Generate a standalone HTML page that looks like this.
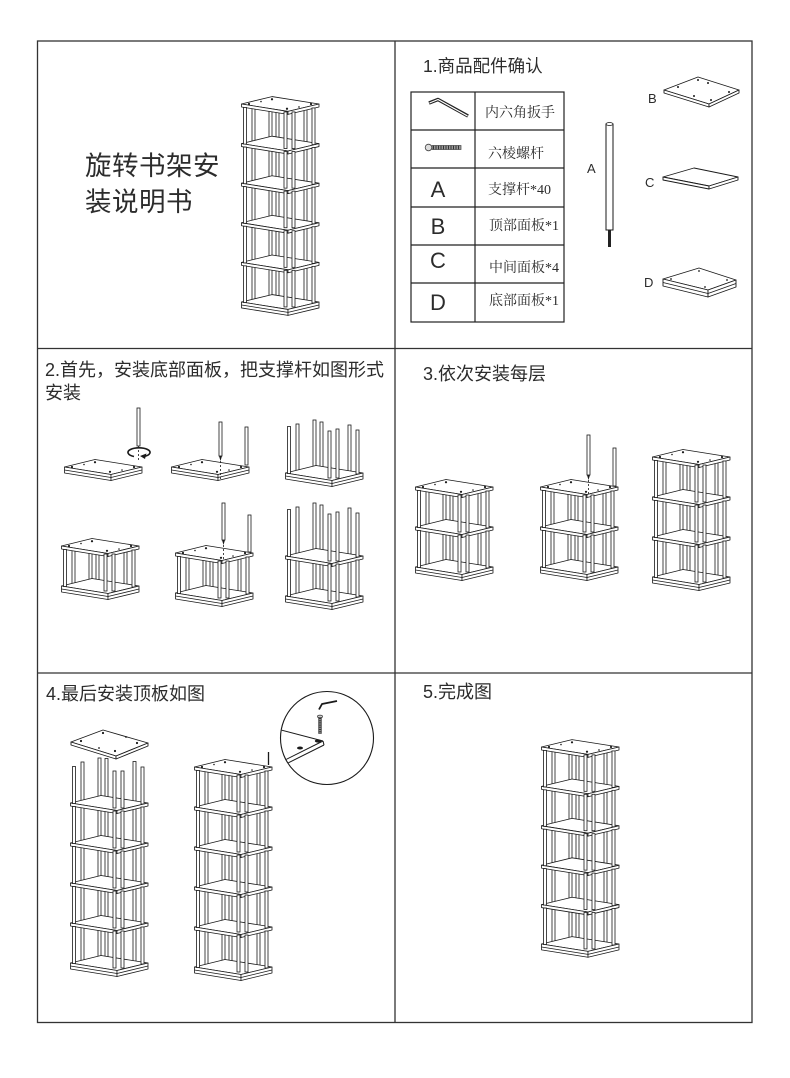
<!DOCTYPE html>
<html><head><meta charset="utf-8"><style>
html,body{margin:0;padding:0;background:#fff;}
svg{display:block;}
.t{font-family:"Liberation Sans","Noto Sans CJK SC",sans-serif;fill:#2c2c2c;}
.s{font-family:"Liberation Serif","Noto Serif CJK SC",serif;fill:#2c2c2c;}
</style></head><body>
<svg width="790" height="1078" viewBox="0 0 790 1078">
<defs>
 <g id="bp" fill="#fff" stroke="#1a1a1a" stroke-width="0.8">
  <rect x="9" y="-1" width="3" height="40"/>
  <rect x="26" y="-5" width="3" height="40"/>
  <rect x="33" y="-4.5" width="3" height="40"/>
  <rect x="61" y="-1.5" width="3" height="40"/>
 </g>
 <g id="fp" fill="#fff" stroke="#1a1a1a" stroke-width="0.8">
  <rect x="0.5" y="3.5" width="3" height="37"/>
  <rect x="41" y="8" width="3" height="37"/>
  <rect x="49" y="8" width="3" height="37"/>
  <rect x="69" y="4" width="3" height="37"/>
 </g>
 <g id="fpl" fill="#fff" stroke="#1a1a1a" stroke-width="0.8">
  <rect x="0.5" y="-6.5" width="3" height="47"/>
  <rect x="41" y="-2" width="3" height="47"/>
  <rect x="49" y="-4" width="3" height="49"/>
  <rect x="69" y="-3" width="3" height="44"/>
 </g>
 <g id="bpl" fill="#fff" stroke="#1a1a1a" stroke-width="0.8">
  <rect x="9" y="-9" width="3" height="48"/>
  <rect x="26" y="-13" width="3" height="48"/>
  <rect x="33" y="-11" width="3" height="46"/>
  <rect x="61" y="-8" width="3" height="46"/>
 </g>
 <g id="pn" fill="#fff" stroke="#1a1a1a" stroke-width="0.8" stroke-linejoin="round">
  <polygon points="-1.5,0 29,-7.5 76,0 45,7.5"/>
  <polygon points="-1.5,0 45,7.5 45,10.5 -1.5,3"/>
  <polygon points="45,7.5 76,0 76,3 45,10.5"/>
 </g>
 <g id="dots" fill="#1a1a1a">
  <circle cx="6" cy="0" r="1.1"/><circle cx="29" cy="-4.8" r="1.1"/>
  <circle cx="68" cy="0" r="1.1"/><circle cx="44" cy="4.8" r="1.1"/>
  <circle cx="18" cy="-2.5" r="0.8"/><circle cx="56" cy="3" r="0.8"/>
 </g>
 <g id="pt"><use href="#pn"/><use href="#dots"/></g>
 <g id="pb" fill="#fff" stroke="#1a1a1a" stroke-width="0.8" stroke-linejoin="round">
  <polygon points="-1.5,0 29,-7.5 76,0 45,7.5"/>
  <polygon points="-1.5,0 45,7.5 45,13.5 -1.5,6"/>
  <polygon points="45,7.5 76,0 76,6 45,13.5"/>
  <polyline points="-1.5,3 45,10.5 76,3" fill="none"/>
 </g>
 <g id="t1">
  <use href="#bp"/>
  <use href="#pt"/><use href="#pb" y="40"/>
  <use href="#fp"/>
 </g>
 <g id="t2">
  <use href="#bp"/><use href="#bp" y="40"/>
  <use href="#pt"/><use href="#pn" y="40"/><use href="#pb" y="80"/>
  <use href="#fp"/><use href="#fp" y="40"/>
 </g>
 <g id="t3">
  <use href="#bp"/><use href="#bp" y="40"/><use href="#bp" y="80"/>
  <use href="#pt"/><use href="#pn" y="40"/><use href="#pn" y="80"/><use href="#pb" y="120"/>
  <use href="#fp"/><use href="#fp" y="40"/><use href="#fp" y="80"/>
 </g>
 <g id="t5">
  <use href="#bp"/><use href="#bp" y="40"/><use href="#bp" y="80"/><use href="#bp" y="120"/><use href="#bp" y="160"/>
  <use href="#pt"/><use href="#pn" y="40"/><use href="#pn" y="80"/><use href="#pn" y="120"/><use href="#pn" y="160"/><use href="#pb" y="200"/>
  <use href="#fp"/><use href="#fp" y="40"/><use href="#fp" y="80"/><use href="#fp" y="120"/><use href="#fp" y="160"/>
 </g>
 <clipPath id="cc"><circle cx="327" cy="738" r="46"/></clipPath>
</defs>

<!-- ===== Panel 0: title ===== -->
<text class="t" x="85" y="175" font-size="26.5" letter-spacing="0.5">旋转书架安</text>
<text class="t" x="85" y="211" font-size="26.5" letter-spacing="0.5">装说明书</text>
<use href="#t5" transform="translate(243,104) scale(1,0.99)"/>

<!-- ===== Panel 1: parts ===== -->
<text class="t" x="423" y="72" font-size="17.5">1.商品配件确认</text>
<g fill="none" stroke="#222" stroke-width="1.2">
 <rect x="411" y="92" width="153" height="230"/>
 <line x1="475" y1="92" x2="475" y2="322"/>
 <line x1="411" y1="130" x2="564" y2="130"/>
 <line x1="411" y1="168" x2="564" y2="168"/>
 <line x1="411" y1="207" x2="564" y2="207"/>
 <line x1="411" y1="245" x2="564" y2="245"/>
 <line x1="411" y1="283" x2="564" y2="283"/>
</g>
<polyline points="429,103 438,99.5 468,116" fill="none" stroke="#222" stroke-width="3.4" stroke-linejoin="round"/>
<polyline points="429.5,103 438,99.5 467.5,116" fill="none" stroke="#fff" stroke-width="1.2" stroke-linejoin="round"/>
<circle cx="428.5" cy="147.5" r="3.3" fill="#ddd" stroke="#444" stroke-width="0.8"/>
<rect x="432" y="145.5" width="29" height="4" fill="#999" stroke="#444" stroke-width="0.7"/>
<line x1="433" y1="147.5" x2="460" y2="147.5" stroke="#333" stroke-width="4" stroke-dasharray="1 1.5"/>

<text class="t" x="438" y="197" font-size="22" text-anchor="middle">A</text>
<text class="t" x="438" y="234" font-size="22" text-anchor="middle">B</text>
<text class="t" x="438" y="268" font-size="22" text-anchor="middle">C</text>
<text class="t" x="438" y="310" font-size="22" text-anchor="middle">D</text>
<text class="s" x="485" y="117" font-size="14">内六角扳手</text>
<text class="s" x="488" y="158" font-size="14">六棱螺杆</text>
<text class="s" x="488" y="194" font-size="14">支撑杆*40</text>
<text class="s" x="489" y="230" font-size="14">顶部面板*1</text>
<text class="s" x="489" y="272" font-size="14">中间面板*4</text>
<text class="s" x="489" y="305" font-size="14">底部面板*1</text>

<text class="t" x="587" y="173" font-size="13">A</text>
<rect x="606" y="124" width="7" height="106" fill="#fff" stroke="#1a1a1a" stroke-width="1"/>
<ellipse cx="609.5" cy="124" rx="3.5" ry="1.5" fill="#fff" stroke="#1a1a1a" stroke-width="0.8"/>
<rect x="608" y="230" width="3" height="17" fill="#222"/>

<text class="t" x="648" y="103" font-size="13">B</text>
<g fill="#fff" stroke="#1a1a1a" stroke-width="0.9" stroke-linejoin="round">
 <polygon points="664,90 698,77 739,90 709,104"/>
 <polygon points="664,90 709,104 709,107 664,93"/>
 <polygon points="709,104 739,90 739,93 709,107"/>
</g>
<g fill="#1a1a1a">
 <circle cx="678" cy="87" r="1"/><circle cx="698" cy="80" r="1"/><circle cx="708" cy="83" r="1"/>
 <circle cx="694" cy="96" r="1"/><circle cx="711" cy="100" r="1"/><circle cx="729" cy="92" r="1"/>
</g>
<text class="t" x="645" y="187" font-size="13">C</text>
<g fill="#fff" stroke="#1a1a1a" stroke-width="0.9" stroke-linejoin="round">
 <polygon points="663,177 694,168 738,177 709,186"/>
 <polygon points="663,177 709,186 709,189 663,180"/>
 <polygon points="709,186 738,177 738,180 709,189"/>
</g>
<text class="t" x="644" y="287" font-size="13">D</text>
<g fill="#fff" stroke="#1a1a1a" stroke-width="0.9" stroke-linejoin="round">
 <polygon points="663,279 699,268 736,280 708,290"/>
 <polygon points="663,279 708,290 708,297 663,286"/>
 <polygon points="708,290 736,280 736,287 708,297"/>
 <polyline points="663,282.5 708,293.5 736,283.5" fill="none"/>
</g>
<g fill="#1a1a1a">
 <circle cx="671" cy="279" r="0.9"/><circle cx="699" cy="271" r="0.9"/><circle cx="727" cy="280" r="0.9"/><circle cx="705" cy="287" r="0.9"/>
</g>

<!-- ===== Panel 2 ===== -->
<text class="t" x="45" y="376" font-size="18">2.首先，安装底部面板，把支撑杆如图形式</text>
<text class="t" x="45" y="399" font-size="18">安装</text>

<g transform="translate(66,467)"><use href="#pb"/><use href="#dots"/></g>
<rect x="137" y="408" width="3" height="38" fill="#fff" stroke="#1a1a1a" stroke-width="0.8"/>
<line x1="138.5" y1="446" x2="138.5" y2="462" stroke="#1a1a1a" stroke-width="0.8" stroke-dasharray="2 2"/>
<path d="M134,456.5 A11,4.6 0 1 1 144,456.5" fill="none" stroke="#1a1a1a" stroke-width="1.6"/>
<polygon points="146.5,453.5 145,459 140,456" fill="#1a1a1a"/>

<g transform="translate(173,467)"><use href="#pb"/><use href="#dots"/></g>
<rect x="219" y="422" width="3" height="34" fill="#fff" stroke="#1a1a1a" stroke-width="0.8"/>
<polygon points="219,456 222,456 220.5,461" fill="#1a1a1a"/>
<line x1="220.5" y1="461" x2="220.5" y2="479" stroke="#1a1a1a" stroke-width="0.8" stroke-dasharray="2 2"/>
<rect x="245" y="427" width="3" height="38" fill="#fff" stroke="#1a1a1a" stroke-width="0.8"/>

<g transform="translate(287,473)">
 <use href="#bpl" y="-40"/><use href="#pb"/><use href="#fpl" y="-40"/>
</g>

<use href="#t1" transform="translate(63,546)"/>

<use href="#t1" transform="translate(177,553)"/>
<rect x="222" y="503" width="3" height="37" fill="#fff" stroke="#1a1a1a" stroke-width="0.8"/>
<polygon points="222,540 225,540 223.5,545" fill="#1a1a1a"/>
<line x1="223.5" y1="545" x2="223.5" y2="560" stroke="#1a1a1a" stroke-width="0.8" stroke-dasharray="2 2"/>
<rect x="248" y="515" width="3" height="37" fill="#fff" stroke="#1a1a1a" stroke-width="0.8"/>

<g transform="translate(287,556)">
 <use href="#bpl" y="-40"/><use href="#bp"/>
 <use href="#pn"/><use href="#pb" y="40"/>
 <use href="#fpl" y="-40"/><use href="#fp"/>
</g>

<!-- ===== Panel 3 ===== -->
<text class="t" x="423" y="380" font-size="18">3.依次安装每层</text>
<use href="#t2" transform="translate(417,487)"/>
<use href="#t2" transform="translate(542,487)"/>
<rect x="587" y="435" width="3" height="40" fill="#fff" stroke="#1a1a1a" stroke-width="0.8"/>
<polygon points="587,475 590,475 588.5,480" fill="#1a1a1a"/>
<line x1="588.5" y1="480" x2="588.5" y2="494" stroke="#1a1a1a" stroke-width="0.8" stroke-dasharray="2 2"/>
<rect x="613" y="448" width="3" height="38" fill="#fff" stroke="#1a1a1a" stroke-width="0.8"/>
<use href="#t3" transform="translate(654,457)"/>

<!-- ===== Panel 4 ===== -->
<text class="t" x="46" y="700" font-size="18">4.最后安装顶板如图</text>
<g fill="#fff" stroke="#1a1a1a" stroke-width="0.9" stroke-linejoin="round">
 <polygon points="71,742 103,730 148,743 116,756"/>
 <polygon points="71,742 116,756 116,759 71,745"/>
 <polygon points="116,756 148,743 148,746 116,759"/>
</g>
<g fill="#1a1a1a">
 <circle cx="81" cy="741" r="1.1"/><circle cx="103" cy="733" r="1.1"/><circle cx="137" cy="743" r="1.1"/>
 <circle cx="115" cy="751" r="1.1"/><circle cx="99" cy="748" r="0.9"/><circle cx="126" cy="737" r="0.9"/>
</g>
<g transform="translate(72,803)">
 <use href="#bp" y="-40"/><use href="#bp"/><use href="#bp" y="40"/><use href="#bp" y="80"/><use href="#bp" y="120"/>
 <use href="#pn"/><use href="#pn" y="40"/><use href="#pn" y="80"/><use href="#pn" y="120"/><use href="#pb" y="160"/>
 <use href="#fp" y="-40"/><use href="#fp"/><use href="#fp" y="40"/><use href="#fp" y="80"/><use href="#fp" y="120"/>
</g>
<use href="#t5" transform="translate(196,767)"/>
<line x1="268.5" y1="752" x2="268.5" y2="765" stroke="#1a1a1a" stroke-width="1.3"/>

<circle cx="327" cy="738" r="46.5" fill="#fff" stroke="#1a1a1a" stroke-width="1.1"/>
<g clip-path="url(#cc)">
 <line x1="260" y1="724.5" x2="323" y2="741" stroke="#1a1a1a" stroke-width="1"/>
 <line x1="323" y1="741" x2="270" y2="767.5" stroke="#1a1a1a" stroke-width="1"/>
 <line x1="324" y1="745" x2="270" y2="772" stroke="#1a1a1a" stroke-width="1"/>
 <line x1="323" y1="741" x2="324" y2="745" stroke="#1a1a1a" stroke-width="1"/>
 <ellipse cx="318" cy="741" rx="3.2" ry="1.6" fill="#1a1a1a"/>
 <ellipse cx="300" cy="748" rx="3" ry="1.5" fill="#1a1a1a"/>
</g>
<ellipse cx="320" cy="716.5" rx="2.6" ry="1.4" fill="#ccc" stroke="#333" stroke-width="0.7"/>
<rect x="318.6" y="717.5" width="2.8" height="16" fill="#888" stroke="#333" stroke-width="0.6"/>
<line x1="320" y1="718" x2="320" y2="733" stroke="#333" stroke-width="2.8" stroke-dasharray="1 1.2"/>
<polyline points="319,709.5 322,704 337,701" fill="none" stroke="#1a1a1a" stroke-width="1.8" stroke-linejoin="round"/>

<!-- ===== Panel 5 ===== -->
<text class="t" x="423" y="698" font-size="18">5.完成图</text>
<use href="#t5" transform="translate(543,747) scale(1,0.985)"/>

<!-- ===== grid ===== -->
<g fill="none" stroke="#333" stroke-width="1.3">
 <rect x="37.5" y="41" width="714.5" height="981.5"/>
 <line x1="395" y1="41" x2="395" y2="1022.5"/>
 <line x1="37.5" y1="348.5" x2="752" y2="348.5"/>
 <line x1="37.5" y1="673" x2="752" y2="673"/>
</g>
</svg>
</body></html>
